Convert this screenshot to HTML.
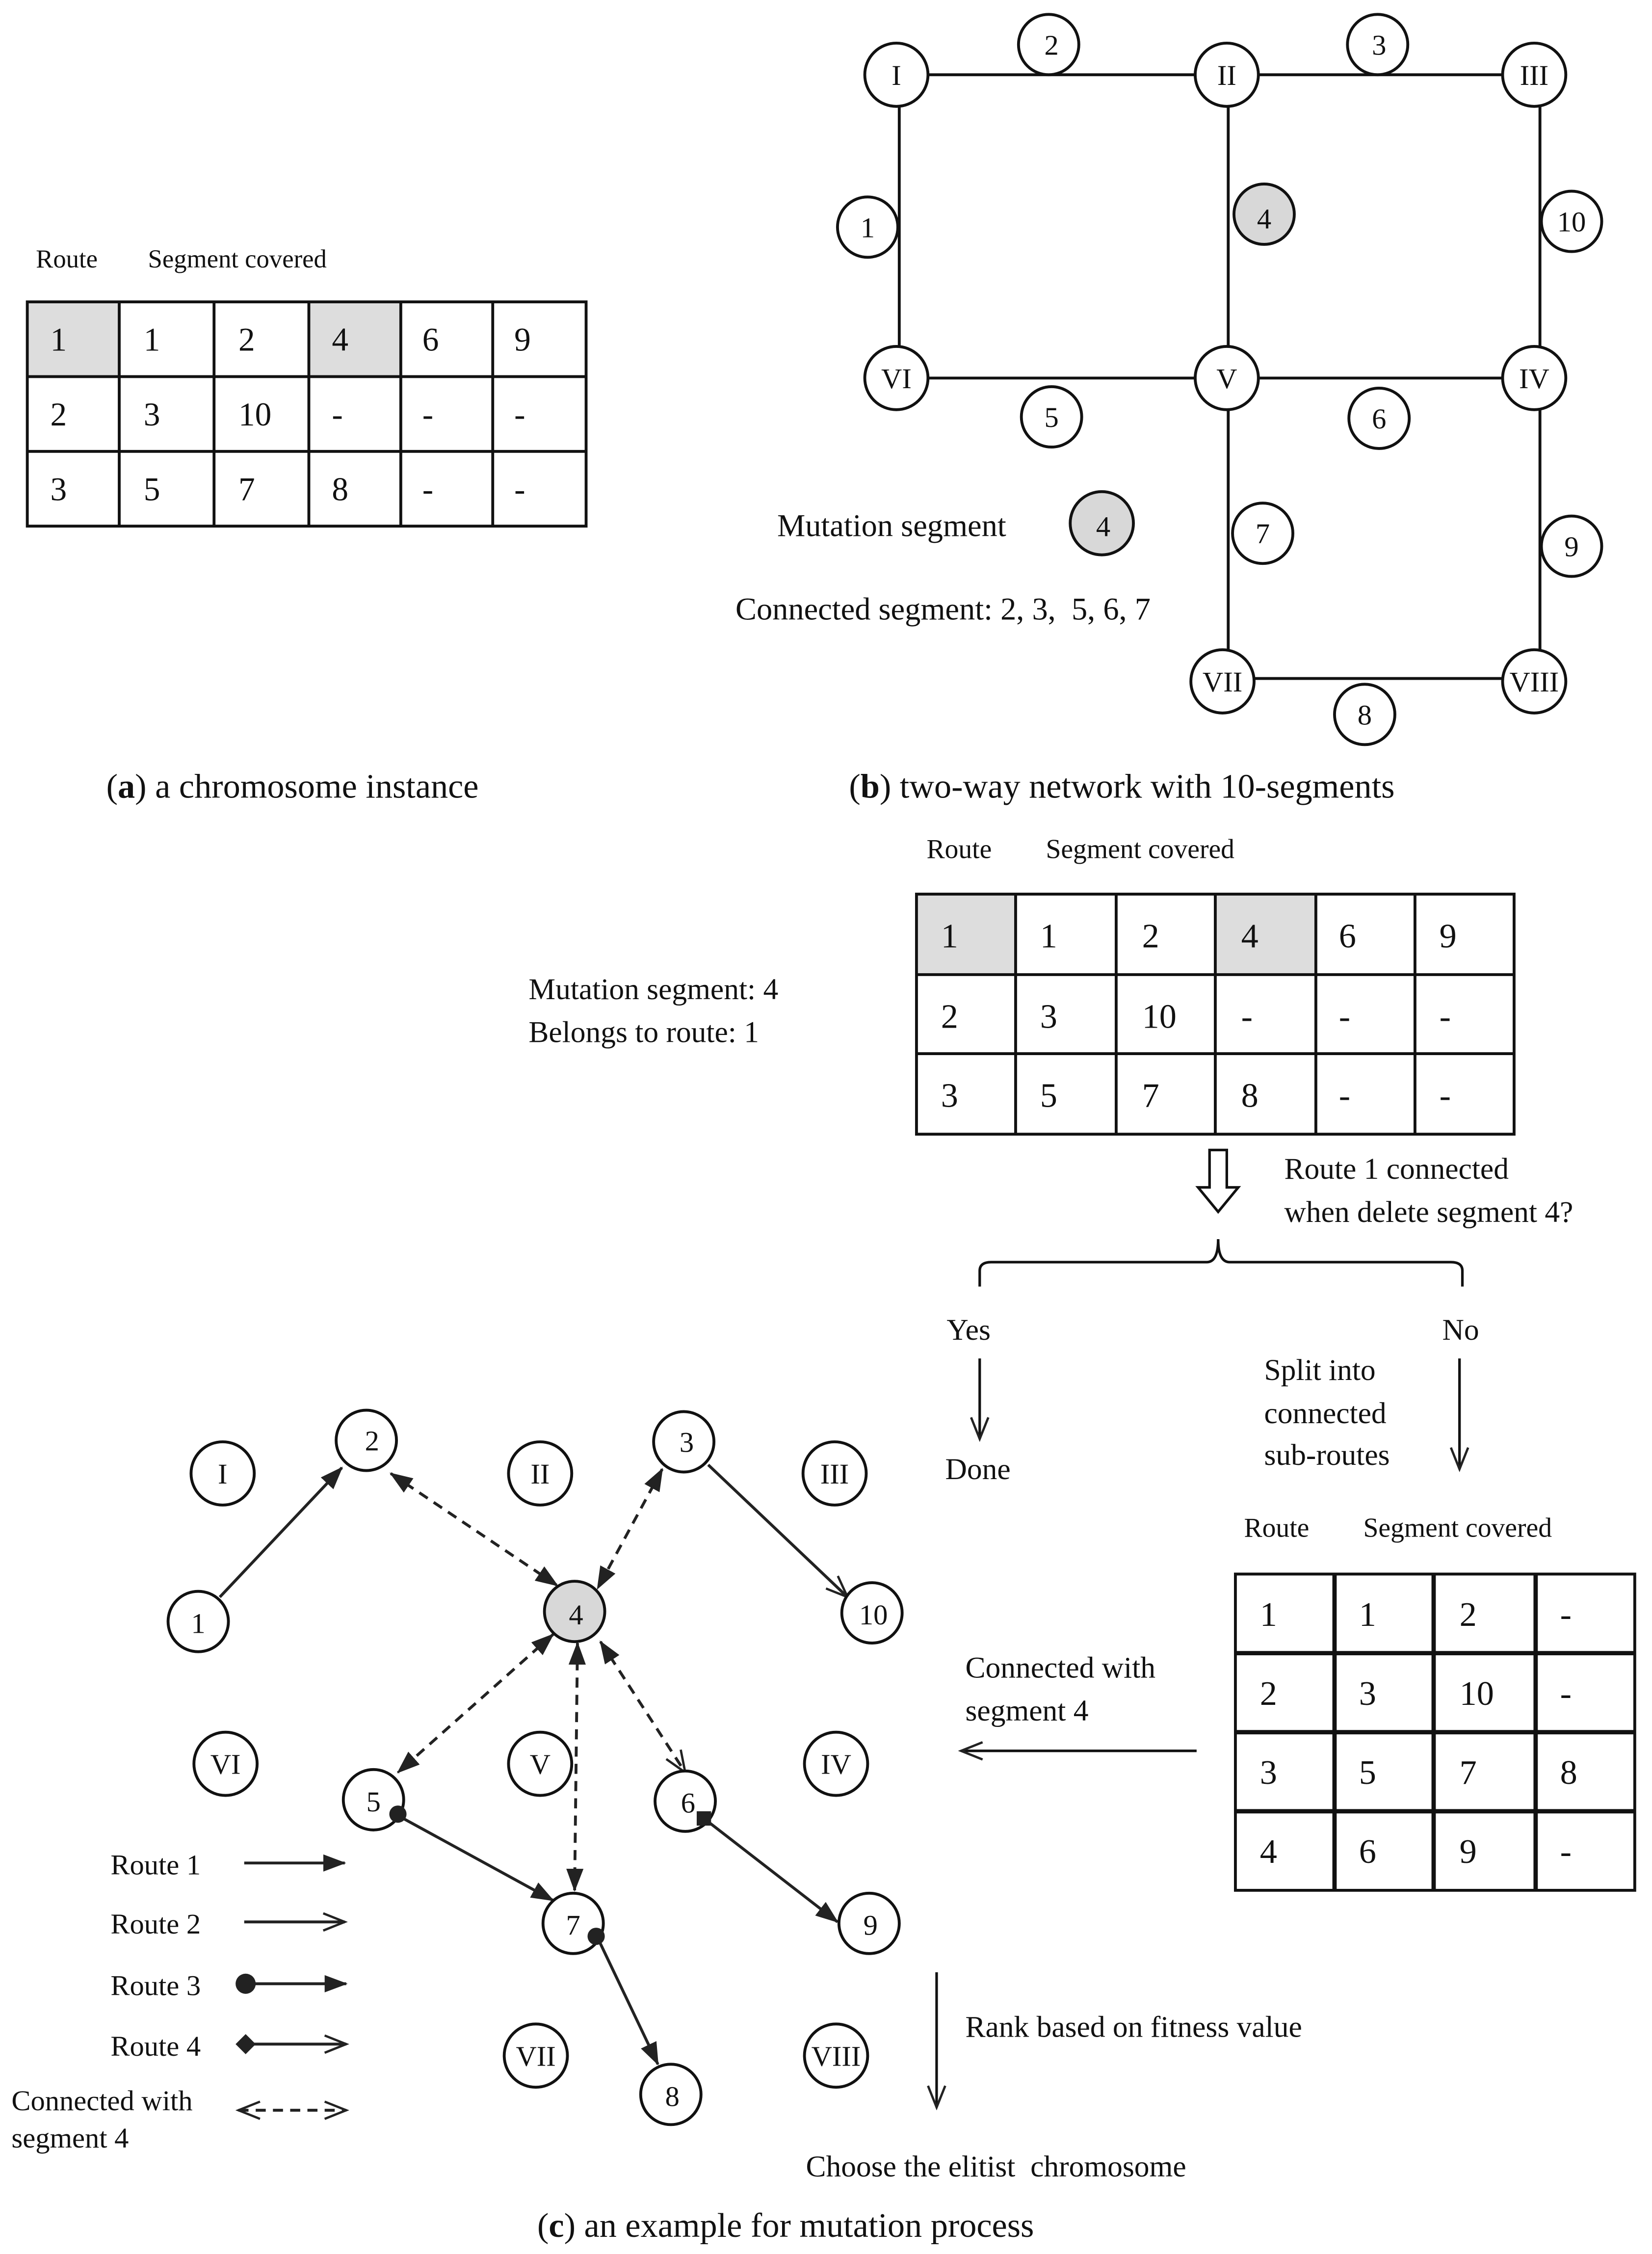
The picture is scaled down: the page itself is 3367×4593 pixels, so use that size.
<!DOCTYPE html>
<html><head><meta charset="utf-8">
<style>
html,body{margin:0;padding:0;background:#fff;}
svg{display:block;}
text{font-family:"Liberation Serif",serif;fill:#111;}
</style></head>
<body>
<svg width="3367" height="4593" viewBox="0 0 1150 1568" preserveAspectRatio="none" xmlns="http://www.w3.org/2000/svg">
<defs>
<marker id="fa" viewBox="0 0 10 10" refX="10" refY="5" markerWidth="5" markerHeight="5" orient="auto-start-reverse" markerUnits="userSpaceOnUse" style="overflow:visible">
<path d="M0,0 L10,5 L0,10 z" fill="#222" transform="scale(1.4) translate(-2.8,-1.4)"/>
</marker>
<marker id="F" markerWidth="16" markerHeight="12" refX="15" refY="6" orient="auto-start-reverse" markerUnits="userSpaceOnUse"><path d="M0,0 L16,6 L0,12 z" fill="#222"/></marker>
<marker id="O" markerWidth="18" markerHeight="14" refX="16" refY="7" orient="auto-start-reverse" markerUnits="userSpaceOnUse"><path d="M1,1 L16,7 L1,13" fill="none" stroke="#222" stroke-width="1.6"/></marker>
</defs>
<g stroke="#111" stroke-width="2" fill="none">
<!-- table a -->
<rect x="20" y="211" width="63" height="51" fill="#ddd" stroke="none"/>
<rect x="215" y="211" width="64" height="51" fill="#ddd" stroke="none"/>
<rect x="19" y="210" width="389" height="156"/>
<line x1="19" y1="262" x2="408" y2="262"/><line x1="19" y1="314" x2="408" y2="314"/>
<line x1="83" y1="210" x2="83" y2="366"/><line x1="149" y1="210" x2="149" y2="366"/>
<line x1="215" y1="210" x2="215" y2="366"/><line x1="279" y1="210" x2="279" y2="366"/>
<line x1="343" y1="210" x2="343" y2="366"/>
<!-- network b -->
<line x1="626" y1="52" x2="1070" y2="52"/>
<line x1="626" y1="263" x2="1070" y2="263"/>
<line x1="852" y1="472" x2="1070" y2="472"/>
<line x1="626" y1="52" x2="626" y2="263"/>
<line x1="855" y1="52" x2="855" y2="472"/>
<line x1="1072" y1="52" x2="1072" y2="472"/>
</g>
<g stroke="#111" stroke-width="2" fill="#fff">
<circle cx="624" cy="52" r="22"/><circle cx="854" cy="52" r="22"/><circle cx="1068" cy="52" r="22"/>
<circle cx="624" cy="263" r="22"/><circle cx="854" cy="263" r="22"/><circle cx="1068" cy="263" r="22"/>
<circle cx="851" cy="474" r="22"/><circle cx="1068" cy="474" r="22"/>
<circle cx="730" cy="31" r="21"/><circle cx="959" cy="31" r="21"/><circle cx="604" cy="158" r="21"/>
<circle cx="880" cy="149" r="21" fill="#d8d8d8"/><circle cx="1094" cy="154" r="21"/>
<circle cx="732" cy="290" r="21"/><circle cx="960" cy="291" r="21"/><circle cx="879" cy="371" r="21"/>
<circle cx="1094" cy="380" r="21"/><circle cx="950" cy="497" r="21"/>
<circle cx="767" cy="364" r="22" fill="#d8d8d8"/>
</g>
<g font-size="20" text-anchor="middle">
<text x="624" y="59">I</text><text x="854" y="59">II</text><text x="1068" y="59">III</text>
<text x="624" y="270">VI</text><text x="854" y="270">V</text><text x="1068" y="270">IV</text>
<text x="851" y="481">VII</text><text x="1068" y="481">VIII</text>
<text x="732" y="38">2</text><text x="960" y="38">3</text><text x="604" y="165">1</text><text x="880" y="159">4</text>
<text x="1094" y="161">10</text><text x="732" y="297">5</text><text x="960" y="298">6</text><text x="879" y="378">7</text>
<text x="1094" y="387">9</text><text x="950" y="504">8</text><text x="768" y="373">4</text>
</g>
<g font-size="18"><text x="25" y="186">Route</text><text x="103" y="186">Segment covered</text></g>
<g font-size="23">
<text x="35" y="244">1</text><text x="100" y="244">1</text><text x="166" y="244">2</text><text x="231" y="244">4</text><text x="294" y="244">6</text><text x="358" y="244">9</text>
<text x="35" y="296">2</text><text x="100" y="296">3</text><text x="166" y="296">10</text><text x="231" y="296">-</text><text x="294" y="296">-</text><text x="358" y="296">-</text>
<text x="35" y="348">3</text><text x="100" y="348">5</text><text x="166" y="348">7</text><text x="231" y="348">8</text><text x="294" y="348">-</text><text x="358" y="348">-</text>
</g>
<g font-size="22">
<text x="541" y="373">Mutation segment</text>
<text x="512" y="431">Connected segment: 2, 3, &#160;5, 6, 7</text>
</g>
<g font-size="24">
<text x="74" y="555">(<tspan font-weight="bold">a</tspan>) a chromosome instance</text>
<text x="591" y="555">(<tspan font-weight="bold">b</tspan>) two-way network with 10-segments</text>
<text x="374" y="1556">(<tspan font-weight="bold">c</tspan>) an example for mutation process</text>
</g>
<!-- table 2 -->
<g stroke="#111" stroke-width="2" fill="none">
<rect x="639" y="623" width="68" height="55" fill="#ddd" stroke="none"/>
<rect x="846" y="623" width="70" height="55" fill="#ddd" stroke="none"/>
<rect x="638" y="622" width="416" height="167"/>
<line x1="638" y1="678" x2="1054" y2="678"/><line x1="638" y1="733" x2="1054" y2="733"/>
<line x1="707" y1="622" x2="707" y2="789"/><line x1="777" y1="622" x2="777" y2="789"/>
<line x1="846" y1="622" x2="846" y2="789"/><line x1="916" y1="622" x2="916" y2="789"/>
<line x1="985" y1="622" x2="985" y2="789"/>
</g>
<g font-size="19"><text x="645" y="597">Route</text><text x="728" y="597">Segment covered</text></g>
<g font-size="24">
<text x="655" y="659">1</text><text x="724" y="659">1</text><text x="795" y="659">2</text><text x="864" y="659">4</text><text x="932" y="659">6</text><text x="1002" y="659">9</text>
<text x="655" y="715">2</text><text x="724" y="715">3</text><text x="795" y="715">10</text><text x="864" y="715">-</text><text x="932" y="715">-</text><text x="1002" y="715">-</text>
<text x="655" y="770">3</text><text x="724" y="770">5</text><text x="795" y="770">7</text><text x="864" y="770">8</text><text x="932" y="770">-</text><text x="1002" y="770">-</text>
</g>
<g font-size="21">
<text x="368" y="695">Mutation segment: 4</text>
<text x="368" y="725">Belongs to route: 1</text>
<text x="894" y="820">Route 1 connected</text>
<text x="894" y="850">when delete segment 4?</text>
<text x="659" y="932">Yes</text><text x="1004" y="932">No</text>
<text x="658" y="1029">Done</text>
<text x="880" y="960">Split into</text><text x="880" y="990">connected</text><text x="880" y="1019">sub-routes</text>
<text x="672" y="1167">Connected with</text><text x="672" y="1197">segment 4</text>
<text x="672" y="1417">Rank based on fitness value</text>
<text x="561" y="1514">Choose the elitist &#160;chromosome</text>
</g>
<g stroke="#111" stroke-width="1.8" fill="none">
<path d="M842,800 L854,800 L854,826 L862,826 L848,843 L834,826 L842,826 z" fill="#fff"/>
<path d="M682,895 L682,884 Q682,878 690,878 L840,878 Q848,878 848,862 Q848,878 856,878 L1010,878 Q1018,878 1018,884 L1018,895"/>
<line x1="682" y1="945" x2="682" y2="1001" marker-end="url(#O)"/>
<line x1="1016" y1="945" x2="1016" y2="1022" marker-end="url(#O)"/>
<line x1="833" y1="1218" x2="669" y2="1218" marker-end="url(#O)"/>
<line x1="652" y1="1372" x2="652" y2="1466" marker-end="url(#O)"/>
</g>
<!-- table 3 -->
<g stroke="#111" stroke-width="3" fill="none">
<rect x="860" y="1095" width="278" height="220" stroke-width="2"/>
<line x1="860" y1="1150" x2="1138" y2="1150"/><line x1="860" y1="1205" x2="1138" y2="1205"/><line x1="860" y1="1260" x2="1138" y2="1260"/>
<line x1="929" y1="1095" x2="929" y2="1315"/><line x1="998" y1="1095" x2="998" y2="1315"/><line x1="1069" y1="1095" x2="1069" y2="1315"/>
</g>
<g font-size="19"><text x="866" y="1069">Route</text><text x="949" y="1069">Segment covered</text></g>
<g font-size="24">
<text x="877" y="1131">1</text><text x="946" y="1131">1</text><text x="1016" y="1131">2</text><text x="1086" y="1131">-</text>
<text x="877" y="1186">2</text><text x="946" y="1186">3</text><text x="1016" y="1186">10</text><text x="1086" y="1186">-</text>
<text x="877" y="1241">3</text><text x="946" y="1241">5</text><text x="1016" y="1241">7</text><text x="1086" y="1241">8</text>
<text x="877" y="1296">4</text><text x="946" y="1296">6</text><text x="1016" y="1296">9</text><text x="1086" y="1296">-</text>
</g>
<!-- graph c -->
<g stroke="#222" stroke-width="2" fill="none">
<line x1="153" y1="1111" x2="238" y2="1021" marker-end="url(#F)"/>
<line x1="493" y1="1019" x2="590" y2="1111" marker-end="url(#O)"/>
<line x1="277" y1="1263" x2="385" y2="1322" marker-end="url(#F)"/>
<line x1="490" y1="1265" x2="583" y2="1337" marker-end="url(#F)"/>
<line x1="416" y1="1348" x2="458" y2="1436" marker-end="url(#F)"/>
<g stroke-dasharray="7,5">
<line x1="272" y1="1025" x2="388" y2="1103" marker-start="url(#F)" marker-end="url(#F)"/>
<line x1="461" y1="1022" x2="416" y2="1105" marker-start="url(#F)" marker-end="url(#F)"/>
<line x1="385" y1="1137" x2="277" y2="1233" marker-start="url(#F)" marker-end="url(#F)"/>
<line x1="402" y1="1143" x2="400" y2="1315" marker-start="url(#F)" marker-end="url(#F)"/>
<line x1="418" y1="1142" x2="477" y2="1233" marker-start="url(#F)" marker-end="url(#O)"/>
<line x1="166" y1="1468" x2="241" y2="1468" marker-start="url(#O)" marker-end="url(#O)"/>
</g>
<line x1="170" y1="1296" x2="240" y2="1296" marker-end="url(#F)"/>
<line x1="170" y1="1337" x2="240" y2="1337" marker-end="url(#O)"/>
<line x1="171" y1="1380" x2="241" y2="1380" marker-end="url(#F)"/>
<line x1="171" y1="1422" x2="241" y2="1422" marker-end="url(#O)"/>
</g>
<g stroke="#111" stroke-width="2" fill="#fff">
<circle cx="155" cy="1025" r="22"/><circle cx="376" cy="1025" r="22"/><circle cx="581" cy="1025" r="22"/>
<circle cx="157" cy="1227" r="22"/><circle cx="376" cy="1227" r="22"/><circle cx="582" cy="1227" r="22"/>
<circle cx="373" cy="1430" r="22"/><circle cx="582" cy="1430" r="22"/>
<circle cx="255" cy="1002" r="21"/><circle cx="476" cy="1003" r="21"/><circle cx="138" cy="1128" r="21"/>
<circle cx="400" cy="1121" r="21" fill="#d8d8d8"/><circle cx="607" cy="1122" r="21"/>
<circle cx="260" cy="1252" r="21"/><circle cx="477" cy="1253" r="21"/><circle cx="399" cy="1338" r="21"/>
<circle cx="605" cy="1338" r="21"/><circle cx="467" cy="1457" r="21"/>
</g>
<g fill="#222">
<circle cx="277" cy="1262" r="6"/><rect x="485" y="1260" width="10" height="10"/><circle cx="415" cy="1347" r="6"/>
<circle cx="171" cy="1380" r="7"/><path d="M171,1415 L178,1422 L171,1429 L164,1422 z"/>
</g>
<g font-size="20" text-anchor="middle">
<text x="155" y="1032">I</text><text x="376" y="1032">II</text><text x="581" y="1032">III</text>
<text x="157" y="1234">VI</text><text x="376" y="1234">V</text><text x="582" y="1234">IV</text>
<text x="373" y="1437">VII</text><text x="582" y="1437">VIII</text>
<text x="259" y="1009">2</text><text x="478" y="1010">3</text><text x="138" y="1136">1</text><text x="401" y="1130">4</text>
<text x="608" y="1130">10</text><text x="260" y="1260">5</text><text x="479" y="1261">6</text><text x="399" y="1346">7</text>
<text x="606" y="1346">9</text><text x="468" y="1465">8</text>
</g>
<g font-size="20">
<text x="77" y="1304">Route 1</text><text x="77" y="1345">Route 2</text><text x="77" y="1388">Route 3</text><text x="77" y="1430">Route 4</text>
<text x="8" y="1468">Connected with</text><text x="8" y="1494">segment 4</text>
</g>
</svg>
</body></html>
